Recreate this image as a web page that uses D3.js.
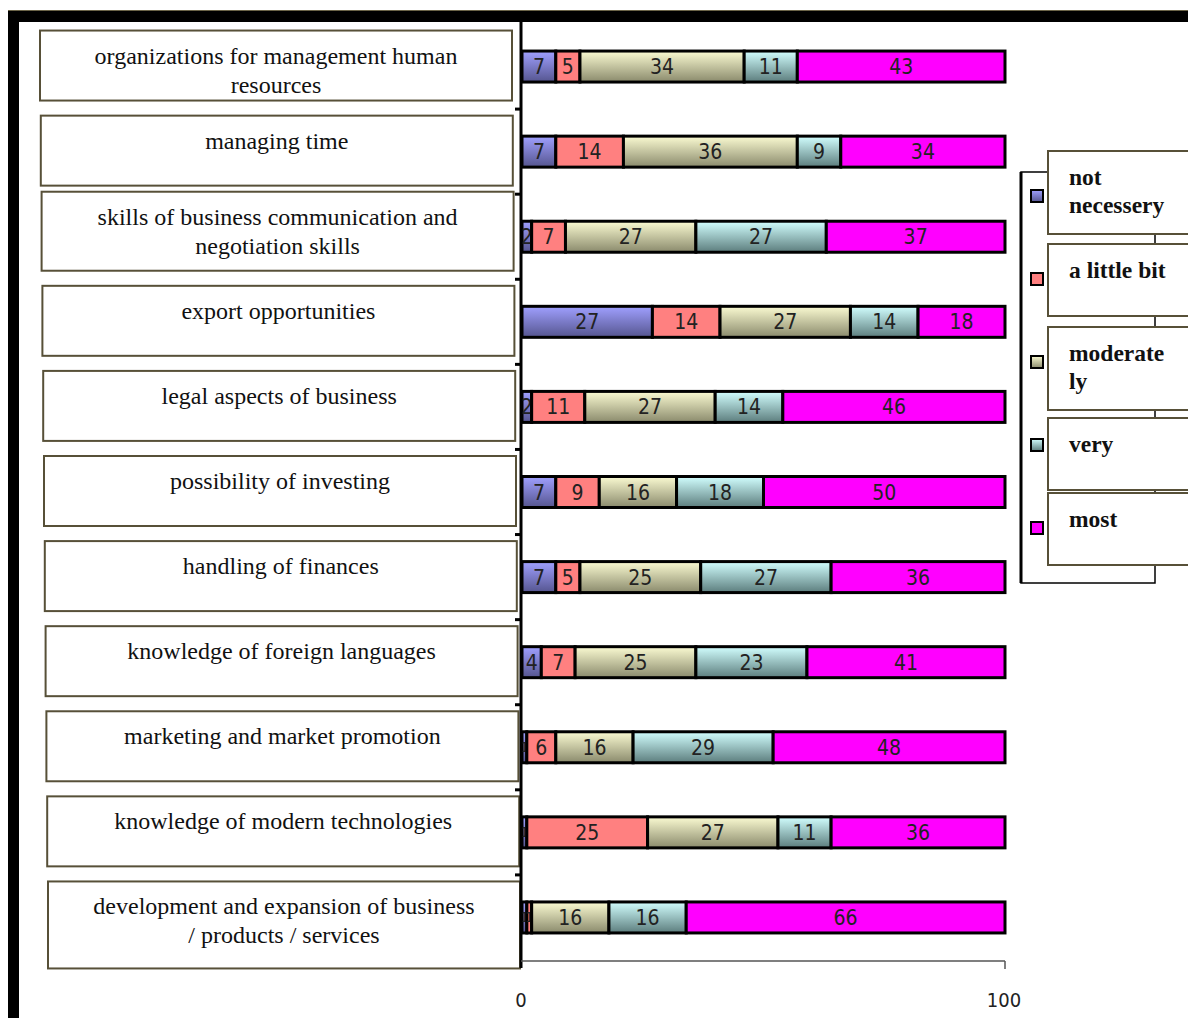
<!DOCTYPE html>
<html>
<head>
  <meta charset="UTF-8">
  <style>
    body { margin: 0; background: #fff; }
    svg { display: block; }
  </style>
</head>
<body>
<svg></svg>
<script src="https://d3js.org/d3.v7.min.js"></script>
<script>

// data
let categories = [
  "organizations for management human|resources",
  "managing time",
  "skills of business communication and|negotiation skills",
  "export opportunities",
  "legal aspects of business",
  "possibility of investing",
  "handling of finances",
  "knowledge of foreign languages",
  "marketing and market promotion",
  "knowledge of modern technologies",
  "development and expansion of business|/ products / services"
];
let seriesNames = ["not|necessery", "a little bit", "moderate|ly", "very", "most"];
let notNecessary = [7, 7, 2, 27, 2, 7, 7, 4, 1, 1, 1];
let aLittleBit   = [5, 14, 7, 14, 11, 9, 5, 7, 6, 25, 1];
let moderately   = [34, 36, 27, 27, 27, 16, 25, 25, 16, 27, 16];
let very         = [11, 9, 27, 14, 14, 18, 27, 23, 29, 11, 16];
let most         = [43, 34, 37, 18, 46, 50, 36, 41, 48, 36, 66];
let xTicks = [0, 100];

let width = 1188, height = 1018;

let svg = d3.select("svg")
    .attr("width", width)
    .attr("height", height);

// gradients for the shaded series
let defs = svg.append("defs");
let grads = [
  {id: "gBlue", top: "#a0a0ff", bottom: "#55558f"},
  {id: "gCream", top: "#fbfbd2", bottom: "#8a8a6c"},
  {id: "gTeal", top: "#d2ffff", bottom: "#5c7d7d"}
];
grads.forEach(g => {
  let lg = defs.append("linearGradient").attr("id", g.id)
    .attr("x1", 0).attr("y1", 0).attr("x2", 0).attr("y2", 1);
  lg.append("stop").attr("offset", "0%").attr("stop-color", g.top);
  lg.append("stop").attr("offset", "100%").attr("stop-color", g.bottom);
});
let fills = ["url(#gBlue)", "#ff8080", "url(#gCream)", "url(#gTeal)", "#ff00ff"];

// outer frame
svg.append("line").attr("x1", 8).attr("x2", width).attr("y1", 10.5).attr("y2", 10.5)
  .attr("stroke", "#6b6448").attr("stroke-width", 1);
svg.append("rect").attr("x", 8).attr("y", 11).attr("width", width - 8).attr("height", 11).attr("fill", "#000");
svg.append("rect").attr("x", 8).attr("y", 11).attr("width", 11).attr("height", height).attr("fill", "#000");

let x = d3.scaleLinear().domain([0, 100]).range([522, 1005]);
let y = d3.scaleBand().domain(d3.range(categories.length)).range([24, 960]);

let rows = categories.map((c, i) => {
  let vals = [notNecessary[i], aLittleBit[i], moderately[i], very[i], most[i]];
  let acc = 0;
  return vals.map((v, k) => {
    let seg = {row: i, k: k, v: v, x0: acc, x1: acc + v};
    acc += v;
    return seg;
  });
});

// category label boxes
let labelG = svg.append("g");
categories.forEach((c, i) => {
  let cy = y(i) + y.bandwidth() / 2;
  let top = cy - 36 - (i == 2 ? 9 : 0);
  let h = i == categories.length - 1 ? 87 : (i == 2 ? 79 : 70);
  let bx = 40 + i * 0.8;
  labelG.append("rect")
    .attr("x", bx).attr("y", top).attr("width", 472).attr("height", h)
    .attr("fill", "#fff").attr("stroke", "#575038").attr("stroke-width", 2);
  let lines = c.split("|");
  lines.forEach((l, j) => {
    labelG.append("text")
      .attr("x", bx + 236).attr("y", top + 33 + j * 29)
      .attr("text-anchor", "middle")
      .attr("font-family", "Liberation Serif, serif")
      .attr("font-size", 24)
      .attr("fill", "#111")
      .text(l);
  });
});

// bars
let barH = 31;
let segG = svg.append("g").selectAll("g")
  .data(rows.flat())
  .enter().append("g");

segG.append("rect")
  .attr("x", d => x(d.x0))
  .attr("y", d => y(d.row) + y.bandwidth() / 2 - barH / 2)
  .attr("width", d => x(d.x1) - x(d.x0))
  .attr("height", barH)
  .attr("fill", d => fills[d.k])
  .attr("stroke", "#000")
  .attr("stroke-width", 3);

segG.append("text")
  .attr("x", d => (x(d.x0) + x(d.x1)) / 2)
  .attr("y", d => y(d.row) + y.bandwidth() / 2)
  .attr("dy", "0.36em")
  .attr("text-anchor", "middle")
  .attr("font-family", "DejaVu Sans Condensed, sans-serif")
  .attr("font-size", d => d.v < 2 ? 14 : 21)
  .attr("fill", "#222")
  .text(d => d.v);

// vertical axis with ticks at category boundaries
svg.append("line").attr("x1", 521).attr("x2", 521).attr("y1", 22).attr("y2", 968)
  .attr("stroke", "#000").attr("stroke-width", 3);
svg.append("g").selectAll("line")
  .data(d3.range(1, categories.length))
  .enter().append("line")
  .attr("x1", 515).attr("x2", 521)
  .attr("y1", d => y(d)).attr("y2", d => y(d))
  .attr("stroke", "#000").attr("stroke-width", 3);

// bottom axis
svg.append("line").attr("x1", 521).attr("x2", x(100)).attr("y1", 961).attr("y2", 961)
  .attr("stroke", "#555").attr("stroke-width", 1.5);
svg.append("line").attr("x1", x(100)).attr("x2", x(100)).attr("y1", 961).attr("y2", 969)
  .attr("stroke", "#555").attr("stroke-width", 1.5);
svg.append("g").selectAll("text")
  .data(xTicks)
  .enter().append("text")
  .attr("x", d => x(d) - 1)
  .attr("y", 1007)
  .attr("text-anchor", "middle")
  .attr("font-family", "DejaVu Sans Condensed, sans-serif")
  .attr("font-size", 20)
  .attr("fill", "#222")
  .text(d => d);

// legend
let legG = svg.append("g");
legG.append("rect").attr("x", 1021).attr("y", 172).attr("width", 134).attr("height", 411)
  .attr("fill", "#fff").attr("stroke", "#000").attr("stroke-width", 1.5);
legG.append("line").attr("x1", 1021).attr("x2", 1021).attr("y1", 172).attr("y2", 583)
  .attr("stroke", "#000").attr("stroke-width", 3);

let legY = d3.scalePoint().domain(d3.range(seriesNames.length)).range([196, 528]);
seriesNames.forEach((s, i) => {
  let sy = legY(i);
  let top = sy - 35 + (i == 0 ? -10 : 0) + (i == 3 ? 8 : 0);
  let bh = i == 0 || i == 2 ? 83 : 72;
  legG.append("rect")
    .attr("x", 1048).attr("y", top).attr("width", 160).attr("height", bh)
    .attr("fill", "#fff").attr("stroke", "#575038").attr("stroke-width", 2);
  legG.append("rect")
    .attr("x", 1031).attr("y", sy - 6).attr("width", 12).attr("height", 12)
    .attr("fill", fills[i]).attr("stroke", "#000").attr("stroke-width", 2);
  s.split("|").forEach((l, j) => {
    legG.append("text")
      .attr("x", 1069).attr("y", top + 34 + j * 28)
      .attr("font-family", "Liberation Serif, serif")
      .attr("font-weight", "bold")
      .attr("font-size", 23.5)
      .attr("fill", "#111")
      .text(l);
  });
});

</script>
</body>
</html>
